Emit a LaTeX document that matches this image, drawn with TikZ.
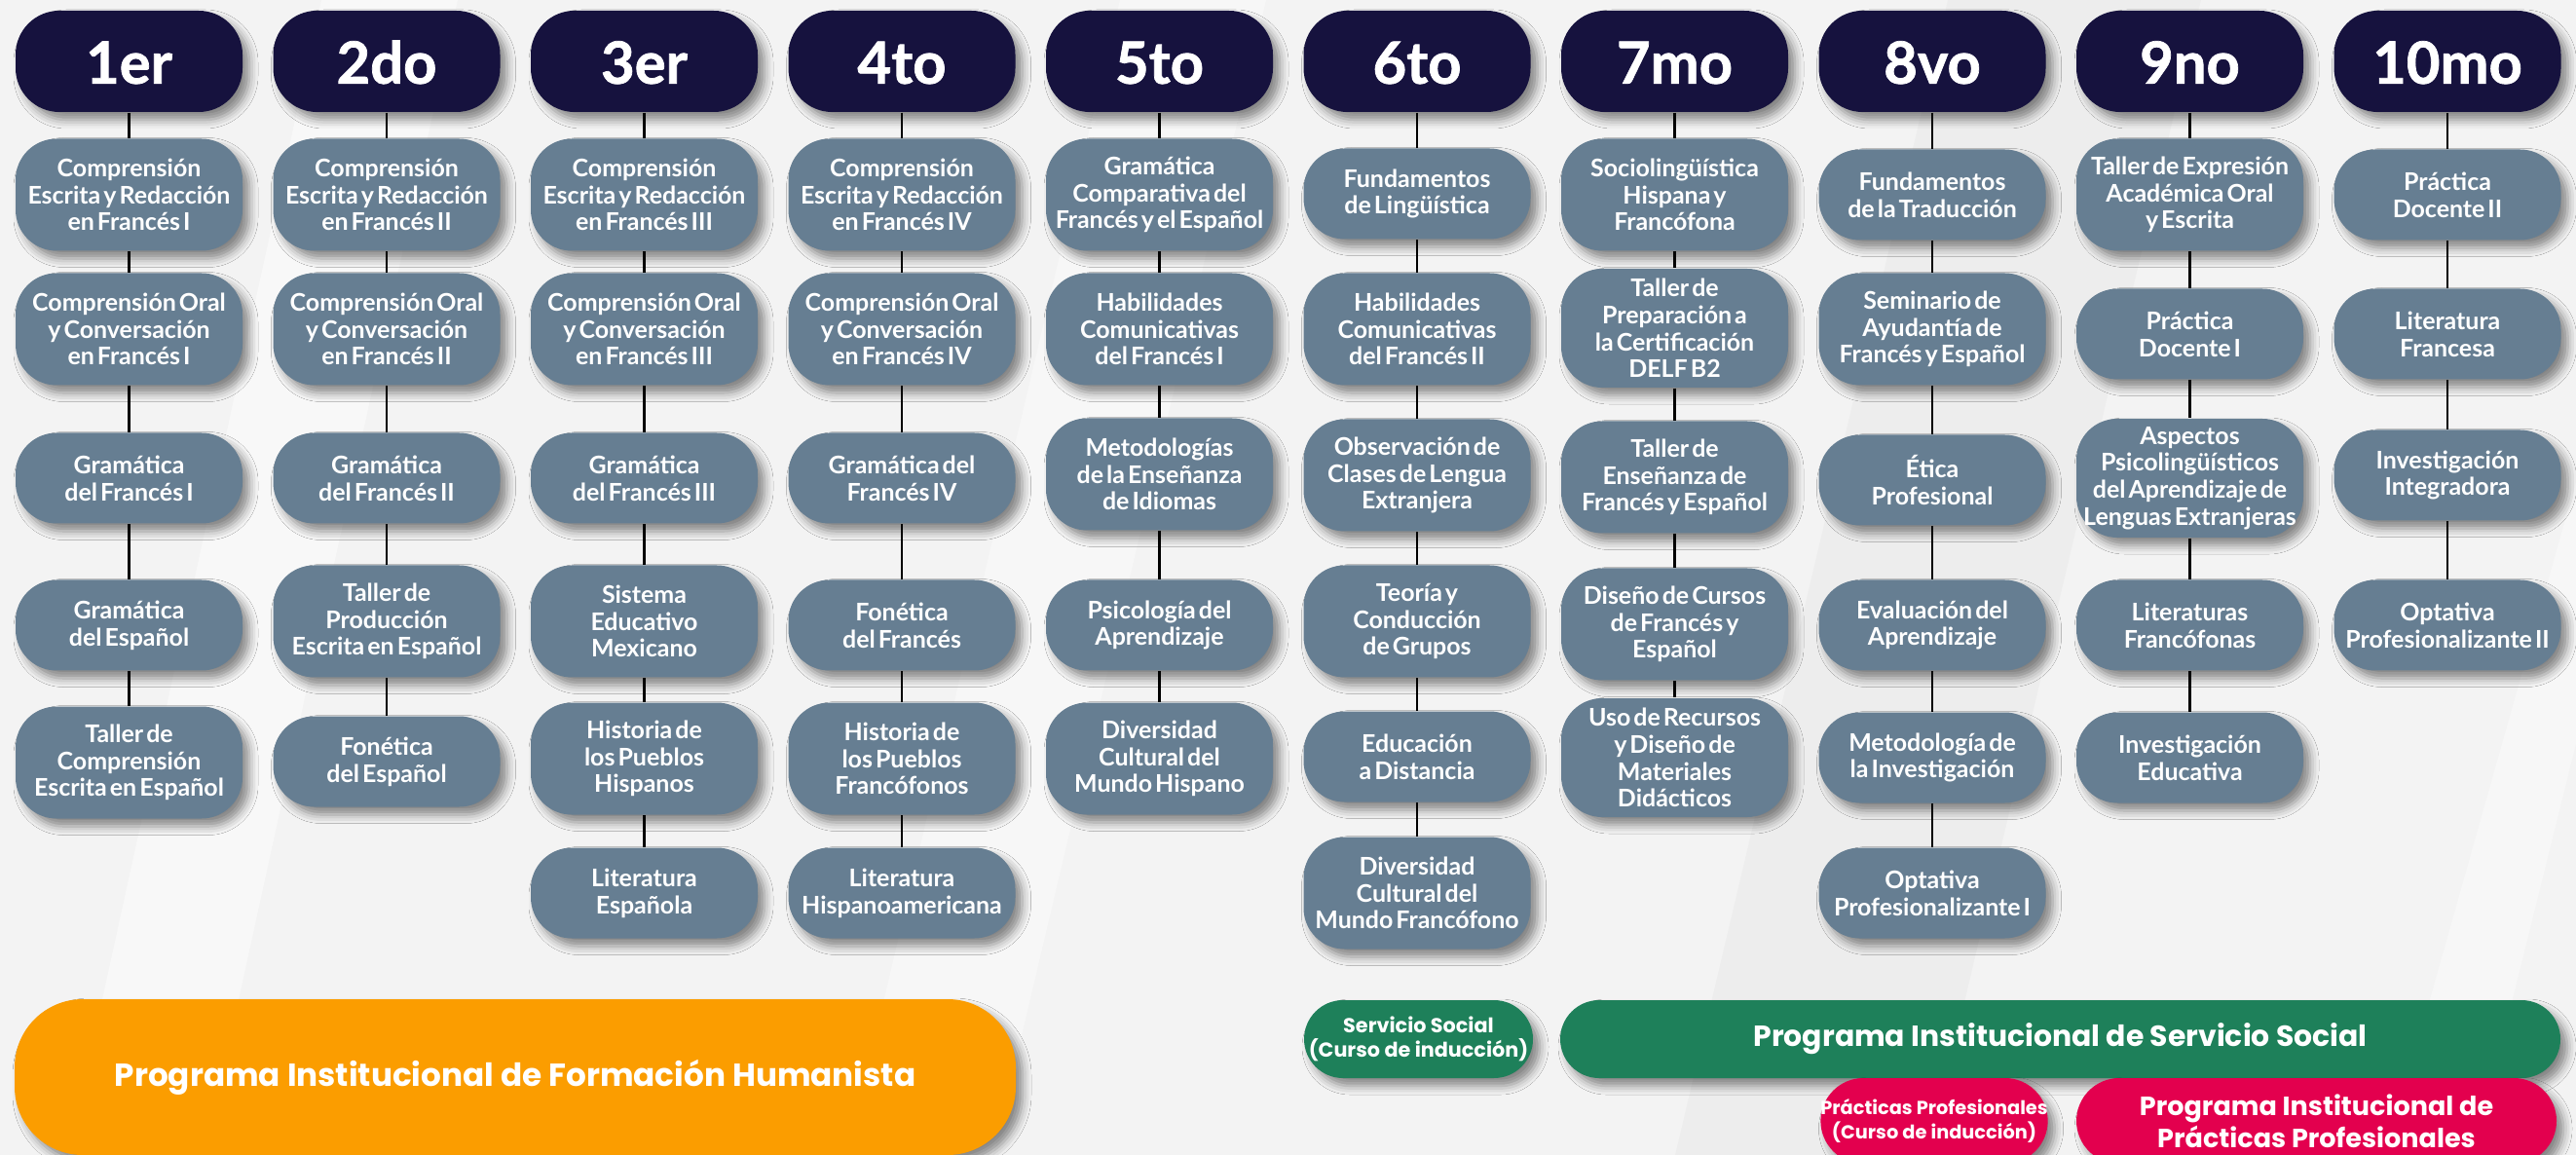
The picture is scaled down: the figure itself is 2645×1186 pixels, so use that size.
\documentclass[tikz,border=0pt]{standalone}
\usepackage{fontspec}
\setmainfont{Lato}[WordSpace=0.5]
\newfontfamily\semfont{Lato}[BoldFeatures={FakeBold=1.2}]
\newfontfamily\barfont{Poppins}
\usetikzlibrary{shadows.blur}

\definecolor{fondo}{HTML}{F3F3F3}
\definecolor{semcolor}{HTML}{16123E}
\definecolor{cursocolor}{HTML}{667E92}
\definecolor{humcolor}{HTML}{FB9D00}
\definecolor{sscolor}{HTML}{1E805A}
\definecolor{ppcolor}{HTML}{E3004E}

\tikzset{
  sombra/.style={blur shadow={shadow xshift=0.7mm, shadow yshift=-0.8mm, shadow blur radius=0.9mm, shadow opacity=45}},
  sem/.style={sombra, fill=semcolor, text=white, rounded corners=4.5mm, minimum width=23.3mm, minimum height=10.4mm, inner sep=0pt, font=\semfont\fontsize{17pt}{18pt}\selectfont\bfseries, text height=1.3em, text depth=0pt},
  curso/.style={sombra, fill=cursocolor, text=white, rounded corners=4.2mm, minimum width=23.3mm, minimum height=11.5mm, inner sep=0pt, align=center, font=\fontsize{7.1pt}{7.9pt}\selectfont\bfseries},
  dos/.style={minimum height=9.3mm},
  cuatro/.style={minimum height=12.2mm},
  link/.style={line width=0.6pt, black},
  barra/.style={sombra, text=white, inner sep=0pt, align=center, font=\barfont\bfseries}
}

\begin{document}
\begin{tikzpicture}[x=0.1mm, y=-0.1mm]
\useasboundingbox (0,0) rectangle (2645,1186);
\fill[fondo] (0,0) rectangle (2645,1186);
% light streaks of the backdrop
\fill[white, opacity=0.45] (330,0) -- (470,0) -- (210,1186) -- (70,1186) -- cycle;
\fill[white, opacity=0.35] (1150,0) -- (1300,0) -- (1020,1186) -- (870,1186) -- cycle;
\fill[black, opacity=0.025] (2000,0) -- (2260,0) -- (1980,1186) -- (1720,1186) -- cycle;
\fill[white, opacity=0.4] (2700,300) -- (2760,300) -- (2540,1186) -- (2450,1186) -- cycle;

% semesters
\foreach \t [count=\i] in {1er,2do,3er,4to,5to,6to,7mo,8vo,9no,10mo}
  \node[sem] (h\i) at ({132.5+264.5*(\i-1)},63) {\t};

% 1er
\node[curso] (n1-1) at (132.5,200) {Comprensión\\Escrita y Redacción\\en Francés I};
\node[curso] (n1-2) at (132.5,338) {Comprensión Oral\\y Conversación\\en Francés I};
\node[curso,dos] (n1-3) at (132.5,491) {Gramática\\del Francés I};
\node[curso,dos] (n1-4) at (132.5,642) {Gramática\\del Español};
\node[curso] (n1-5) at (132.5,783) {Taller de\\Comprensión\\Escrita en Español};
% 2do
\node[curso] (n2-1) at (397,200) {Comprensión\\Escrita y Redacción\\en Francés II};
\node[curso] (n2-2) at (397,338) {Comprensión Oral\\y Conversación\\en Francés II};
\node[curso,dos] (n2-3) at (397,491) {Gramática\\del Francés II};
\node[curso] (n2-4) at (397,638) {Taller de\\Producción\\Escrita en Español};
\node[curso,dos] (n2-5) at (397,782) {Fonética\\del Español};
% 3er
\node[curso] (n3-1) at (661.5,200) {Comprensión\\Escrita y Redacción\\en Francés III};
\node[curso] (n3-2) at (661.5,338) {Comprensión Oral\\y Conversación\\en Francés III};
\node[curso,dos] (n3-3) at (661.5,491) {Gramática\\del Francés III};
\node[curso] (n3-4) at (661.5,638) {Sistema\\Educativo\\Mexicano};
\node[curso] (n3-5) at (661.5,779) {Historia de\\los Pueblos\\Hispanos};
\node[curso,dos] (n3-6) at (661.5,917) {Literatura\\Española};
% 4to
\node[curso] (n4-1) at (926,200) {Comprensión\\Escrita y Redacción\\en Francés IV};
\node[curso] (n4-2) at (926,338) {Comprensión Oral\\y Conversación\\en Francés IV};
\node[curso,dos] (n4-3) at (926,491) {Gramática del\\Francés IV};
\node[curso,dos] (n4-4) at (926,642) {Fonética\\del Francés};
\node[curso] (n4-5) at (926,779) {Historia de\\los Pueblos\\Francófonos};
\node[curso,dos] (n4-6) at (926,917) {Literatura\\Hispanoamericana};
% 5to
\node[curso] (n5-1) at (1190.5,200) {Gramática\\Comparativa del\\Francés y el Español};
\node[curso] (n5-2) at (1190.5,338) {Habilidades\\Comunicativas\\del Francés I};
\node[curso] (n5-3) at (1190.5,487) {Metodologías\\de la Enseñanza\\de Idiomas};
\node[curso,dos] (n5-4) at (1190.5,642) {Psicología del\\Aprendizaje};
\node[curso] (n5-5) at (1190.5,779) {Diversidad\\Cultural del\\Mundo Hispano};
% 6to
\node[curso,dos] (n6-1) at (1455,199) {Fundamentos\\de Lingüística};
\node[curso] (n6-2) at (1455,338) {Habilidades\\Comunicativas\\del Francés II};
\node[curso] (n6-3) at (1455,488) {Observación de\\Clases de Lengua\\Extranjera};
\node[curso] (n6-4) at (1455,638) {Teoría y\\Conducción\\de Grupos};
\node[curso,dos] (n6-5) at (1455,777) {Educación\\a Distancia};
\node[curso] (n6-6) at (1455,917) {Diversidad\\Cultural del\\Mundo Francófono};
% 7mo
\node[curso] (n7-1) at (1719.5,200) {Sociolingüística\\Hispana y\\Francófona};
\node[curso,cuatro] (n7-2) at (1719.5,337) {Taller de\\Preparación a\\la Certificación\\DELF B2};
\node[curso] (n7-3) at (1719.5,490) {Taller de\\Enseñanza de\\Francés y Español};
\node[curso] (n7-4) at (1719.5,641) {Diseño de Cursos\\de Francés y\\Español};
\node[curso,cuatro] (n7-5) at (1719.5,778) {Uso de Recursos\\y Diseño de\\Materiales\\Didácticos};
% 8vo
\node[curso,dos] (n8-1) at (1984,200) {Fundamentos\\de la Traducción};
\node[curso] (n8-2) at (1984,338) {Seminario de\\Ayudantía de\\Francés y Español};
\node[curso,dos] (n8-3) at (1984,493) {Ética\\Profesional};
\node[curso,dos] (n8-4) at (1984,642) {Evaluación del\\Aprendizaje};
\node[curso,dos] (n8-5) at (1984,778) {Metodología de\\la Investigación};
\node[curso,dos] (n8-6) at (1984,917) {Optativa\\Profesionalizante I};
% 9no
\node[curso] (n9-1) at (2248.5,200) {Taller de Expresión\\Académica Oral\\y Escrita};
\node[curso,dos] (n9-2) at (2248.5,343) {Práctica\\Docente I};
\node[curso,cuatro] (n9-3) at (2248.5,491) {Aspectos\\Psicolingüísticos\\del Aprendizaje de\\Lenguas Extranjeras};
\node[curso,dos] (n9-4) at (2248.5,642) {Literaturas\\Francófonas};
\node[curso,dos] (n9-5) at (2248.5,778) {Investigación\\Educativa};
% 10mo
\node[curso,dos] (n10-1) at (2513,200) {Práctica\\Docente II};
\node[curso,dos] (n10-2) at (2513,343) {Literatura\\Francesa};
\node[curso,dos] (n10-3) at (2513,488) {Investigación\\Integradora};
\node[curso,dos] (n10-4) at (2513,642) {Optativa\\Profesionalizante II};

% columns
\foreach \i/\n in {1/5,2/5,3/6,4/6,5/5,6/6,7/5,8/6,9/5,10/4}{
  \draw[link] (h\i.south) -- (n\i-1.north);
  \pgfmathtruncatemacro\m{\n-1}
  \foreach \j [evaluate=\j as \k using int(\j+1)] in {1,...,\m}
    \draw[link] (n\i-\j.south) -- (n\i-\k.north);
}

% institutional programs
\node[barra, fill=humcolor, rounded corners=7mm, minimum width=102.8mm, minimum height=16mm,
  font=\barfont\bfseries\fontsize{9.3pt}{10pt}\selectfont] (hum) at (529,1106)
  {Programa Institucional de Formación Humanista};
\node[barra, fill=sscolor, rounded corners=4mm, minimum width=23.5mm, minimum height=8mm,
  font=\barfont\bfseries\fontsize{5.9pt}{7.2pt}\selectfont] (ssind) at (1456.5,1067)
  {Servicio Social\\(Curso de inducción)};
\node[barra, fill=sscolor, rounded corners=4mm, minimum width=102.7mm, minimum height=8mm,
  font=\barfont\bfseries\fontsize{8.5pt}{9pt}\selectfont] (ss) at (2115.5,1067)
  {Programa Institucional de Servicio Social};
\node[barra, fill=ppcolor, rounded corners=4.4mm, minimum width=23mm, minimum height=8.8mm,
  font=\barfont\bfseries\fontsize{5.5pt}{7.2pt}\selectfont] (ppind) at (1986,1151)
  {Prácticas Profesionales\\(Curso de inducción)};
\node[barra, fill=ppcolor, rounded corners=4.4mm, minimum width=49.3mm, minimum height=8.8mm,
  font=\barfont\bfseries\fontsize{7.7pt}{8.3pt}\selectfont] (pp) at (2378.5,1151)
  {Programa Institucional de\\Prácticas Profesionales};
\end{tikzpicture}
\end{document}
